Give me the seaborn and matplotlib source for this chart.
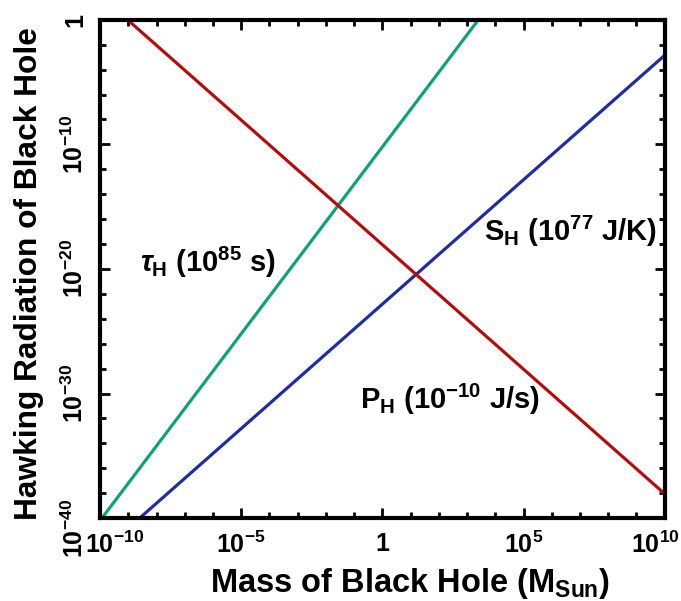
import numpy as np
import pandas as pd
import matplotlib
matplotlib.use("Agg")
import matplotlib.pyplot as plt
import matplotlib.ticker as mticker
import matplotlib.transforms as mtransforms
import seaborn as sns

# endpoints of each power-law line (log-log straight lines)
mass = [1e-10, 1e10]
tau_h = [10**-40.2, 10**19.8]     # lifetime, units of 1e85 s
s_h = [10**-42.8, 10**-2.85]      # entropy, units of 1e77 J/K
p_h = [10**1.95, 10**-38.05]      # power, units of 1e-10 J/s

x_ticks = [1e-10, 1e-5, 1, 1e5, 1e10]
x_ticklabels = [r"$10^{-10}$", r"$10^{-5}$", "1", r"$10^{5}$", r"$10^{10}$"]
y_ticks = [1e-40, 1e-30, 1e-20, 1e-10, 1]
y_ticklabels = [r"$10^{-40}$", r"$10^{-30}$", r"$10^{-20}$", r"$10^{-10}$", "1"]

df = pd.concat([
    pd.DataFrame({"mass": mass, "value": tau_h, "quantity": "tau"}),
    pd.DataFrame({"mass": mass, "value": s_h, "quantity": "S"}),
    pd.DataFrame({"mass": mass, "value": p_h, "quantity": "P"}),
])
colors = {"tau": "#13a077", "S": "#1f2d9e", "P": "#b10f0f"}

sns.set_style("ticks")
plt.rcParams["font.family"] = ["Liberation Sans", "DejaVu Sans"]
plt.rcParams["font.weight"] = "bold"
plt.rcParams["text.color"] = "black"
plt.rcParams["axes.labelcolor"] = "black"
plt.rcParams["xtick.color"] = "black"
plt.rcParams["ytick.color"] = "black"
plt.rcParams["mathtext.fontset"] = "custom"
plt.rcParams["mathtext.rm"] = "Liberation Sans:bold"
plt.rcParams["mathtext.bf"] = "Liberation Sans:bold"
plt.rcParams["mathtext.it"] = "Liberation Sans:bold:italic"
plt.rcParams["mathtext.default"] = "rm"

fig = plt.figure(figsize=(6.81, 6.01), dpi=100)
ax = fig.add_axes([0.147, 0.138, 0.829, 0.829])

sns.lineplot(data=df, x="mass", y="value", hue="quantity", palette=colors,
             linewidth=2.3, legend=False, ax=ax)
ax.set_xscale("log")
ax.set_yscale("log")
ax.set_xlim(1e-10, 1e10)
ax.set_ylim(1e-40, 1)

ax.set_xticks(x_ticks)
ax.set_xticklabels(x_ticklabels)
ax.set_yticks(y_ticks)
ax.set_yticklabels(y_ticklabels, rotation=90, va="center")
ax.xaxis.set_minor_locator(mticker.FixedLocator([10.0**k for k in range(-10, 11)]))
ax.yaxis.set_minor_locator(mticker.FixedLocator([10.0**k for k in range(-40, 1, 2)]))
ax.xaxis.set_minor_formatter(mticker.NullFormatter())
ax.yaxis.set_minor_formatter(mticker.NullFormatter())

ax.tick_params(which="both", direction="in", top=True, right=True, width=2, colors="black")
ax.tick_params(which="major", length=7.5, labelsize=18)
ax.tick_params(axis="x", which="major", pad=10)
ax.tick_params(axis="y", which="major", pad=9)
ax.tick_params(which="minor", length=4.5)
for sp in ax.spines.values():
    sp.set_linewidth(3)
    sp.set_color("black")

# nudge the end tick labels apart, as in the original
def nudge(label, dx, dy):
    label.set_transform(label.get_transform() +
                        mtransforms.ScaledTranslation(dx / 100, dy / 100, fig.dpi_scale_trans))

xl = ax.get_xticklabels()
nudge(xl[0], 14, 0)
nudge(xl[-1], -9, 0)
yl = ax.get_yticklabels()
nudge(yl[0], 0, -10)

ax.set_xlabel(r"Mass of Black Hole (M$_{\mathrm{Sun}}$)", fontsize=23.5, fontweight="bold")
ax.xaxis.set_label_coords(0.549, -0.097)
ax.set_ylabel("Hawking Radiation of Black Hole", fontsize=22.8, fontweight="bold")
ax.yaxis.set_label_coords(-0.1, 0.49)

ax.text(10**-8.6, 10**-19.5, r"$\mathit{\tau}_{\mathrm{H}}$ (10$^{85}$ s)", fontsize=21,
        fontweight="bold", ha="left", va="center")
ax.text(10**3.6, 10**-17.0, r"S$_{\mathrm{H}}$ (10$^{77}$ J/K)", fontsize=21,
        fontweight="bold", ha="left", va="center")
ax.text(10**-0.8, 10**-30.5, r"P$_{\mathrm{H}}$ (10$^{-10}$ J/s)", fontsize=21,
        fontweight="bold", ha="left", va="center")

fig.savefig("out.png", dpi=100)
